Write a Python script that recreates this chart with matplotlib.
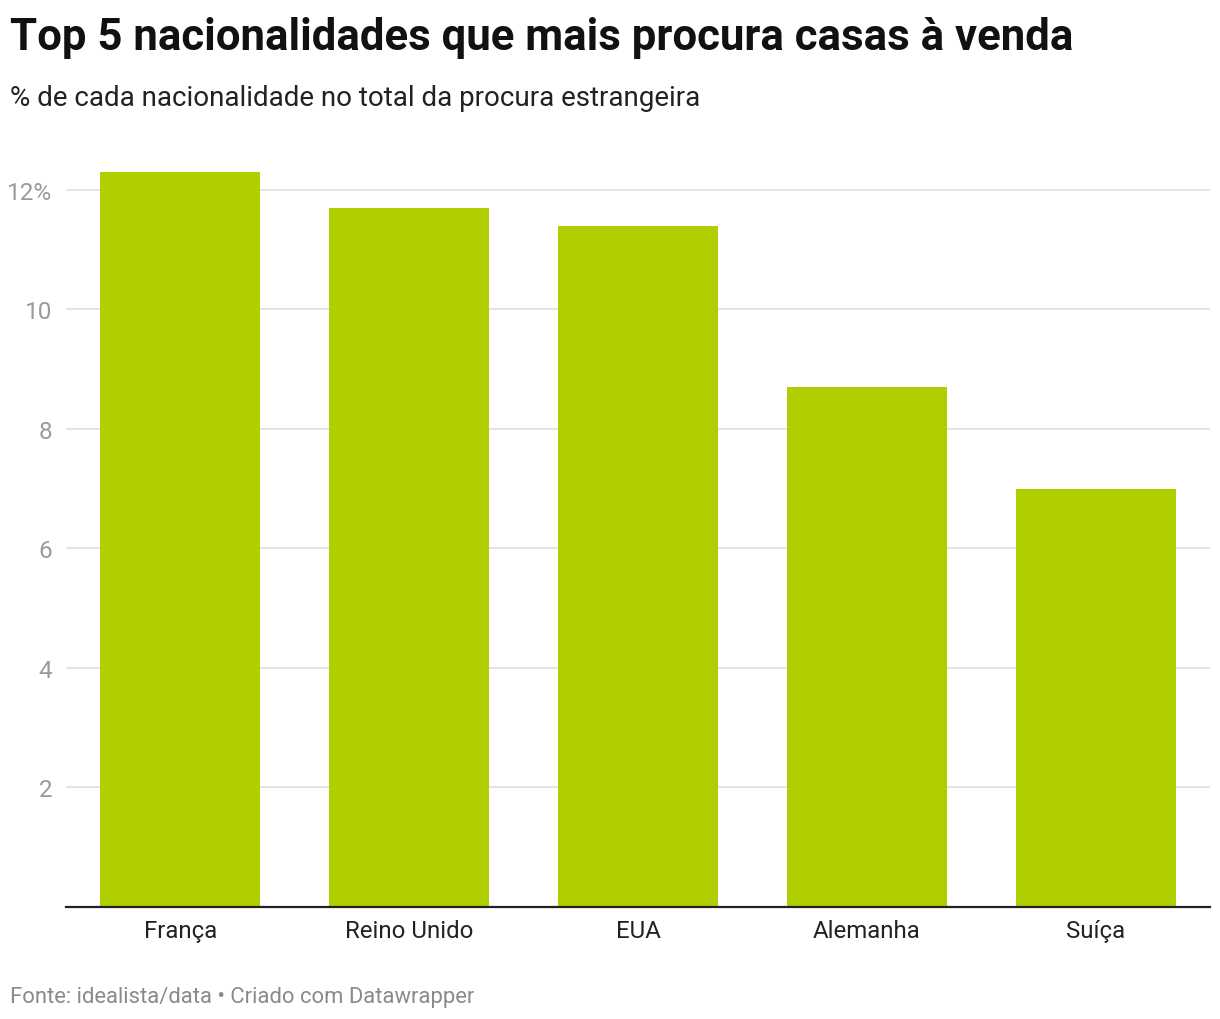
import matplotlib.pyplot as plt

plt.rcParams['font.family'] = ['Roboto', 'DejaVu Sans']

paises = ['França', 'Reino Unido', 'EUA', 'Alemanha', 'Suíça']
procura = [12.3, 11.7, 11.4, 8.7, 7.0]
yticks = [2, 4, 6, 8, 10, 12]
ytick_labels = ['2', '4', '6', '8', '10', '12%']

fig = plt.figure(figsize=(12.2, 10.2), dpi=100)
ax = fig.add_axes([66/1220, 112/1020, 1144/1220, 753/1020])

x = range(len(paises))
ax.bar(x, procura, width=0.7, color='#b1cf00', zorder=2)

ax.set_xlim(-0.5, len(paises) - 0.5)
ax.set_ylim(0, 12.6)
ax.set_yticks(yticks)
ax.set_yticklabels(ytick_labels)
ax.set_xticks(list(x))
ax.set_xticklabels(paises)
ax.grid(axis='y', color='#e2e2e2', linewidth=1.3, zorder=0)
ax.tick_params(axis='y', length=0, pad=10, labelsize=17.5, labelcolor='#9a9a9a')
ax.tick_params(axis='x', length=0, pad=9, labelsize=17.3, labelcolor='#222222')
for lab in ax.get_yticklabels():
    lab.set_horizontalalignment('right')
for s in ['top', 'right', 'left']:
    ax.spines[s].set_visible(False)
ax.spines['bottom'].set_color('#222222')
ax.spines['bottom'].set_linewidth(1.6)
ax.spines['bottom'].set_zorder(3)

fig.text(10/1220, 1 - 38/1020, 'Top 5 nacionalidades que mais procura casas à venda',
         fontsize=31.5, fontweight='bold', color='#111111', va='center', ha='left')
fig.text(10/1220, 1 - 98/1020, '% de cada nacionalidade no total da procura estrangeira',
         fontsize=20, color='#222222', va='center', ha='left')
fig.text(10/1220, 1 - 998/1020, 'Fonte: idealista/data • Criado com Datawrapper',
         fontsize=15.8, color='#8a8a8a', va='center', ha='left')

fig.savefig('out.png', dpi=100, facecolor='white')
